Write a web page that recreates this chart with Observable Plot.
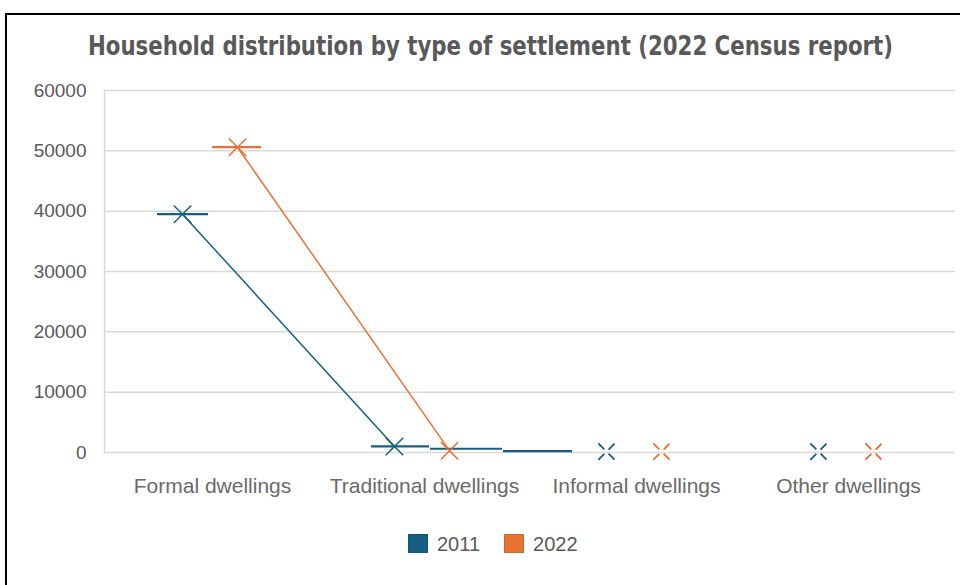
<!DOCTYPE html>
<html><head><meta charset="utf-8">
<script src="https://cdn.jsdelivr.net/npm/d3@7"></script>
<script src="https://cdn.jsdelivr.net/npm/@observablehq/plot@0.6"></script>
<style>
html,body{margin:0;padding:0;background:#fff;}
body{width:960px;height:585px;overflow:hidden;position:relative;font-family:"Liberation Sans",Arial,sans-serif;}
#frame{position:absolute;left:5px;top:13px;width:980px;height:600px;border:2px solid #000;box-shadow:1px 1px 2px #999;}
#title{position:absolute;left:88px;top:33px;font-family:"Liberation Sans Narrow","DejaVu Sans Condensed",Roboto,sans-serif;font-weight:bold;font-size:26px;line-height:1;color:#595959;white-space:nowrap;transform-origin:0 0;}
#chart{position:absolute;left:0;top:0;}
#legend{position:absolute;left:408px;top:534px;display:flex;align-items:center;height:19px;font-size:20px;line-height:1;color:#595959;}
.sw{width:20px;height:19px;margin-right:9px;box-sizing:border-box;}
.lab{margin-right:24px;}
</style></head>
<body>
<div id="frame"></div>
<div id="chart"></div>
<div id="title"></div>
<div id="legend"></div>
<script>
// ---- data ----
const titleText = "Household distribution by type of settlement (2022 Census report)";
const categories = ["Formal dwellings", "Traditional dwellings", "Informal dwellings", "Other dwellings"];
const seriesNames = ["2011", "2022"];
const values2011 = [39500, 1000, 150, 150];
const values2022 = [50600, 300, 150, 150];
const connected = ["Formal dwellings", "Traditional dwellings"];
const yTicks = [0, 10000, 20000, 30000, 40000, 50000, 60000];
// horizontal dash segments seen in the chart (series, category, value)
const dashSeries = ["2011", "2022", "2011", "2011", "2011"];
const dashCategory = ["Formal dwellings", "Formal dwellings", "Traditional dwellings", "Traditional dwellings", "Traditional dwellings"];
const dashValues = [39500, 50600, 1000, 620, 220];

// ---- styles ----
const colors = {"2011": "#156082", "2022": "#E97132"};
const offsets = {"2011": -30, "2022": 25};
const dashInsets = [[51, 110], [106, 57], [53, 101], [112, 28], [185, -42]];

const rows = [];
categories.forEach((c, i) => {
  rows.push({series: "2011", category: c, value: values2011[i]});
  rows.push({series: "2022", category: c, value: values2022[i]});
});
const dashes = dashValues.map((v, i) => ({series: dashSeries[i], category: dashCategory[i], value: v}));

const marks = [
  Plot.gridY(yTicks, {stroke: "#d9d9d9", strokeOpacity: 1, strokeWidth: 1.5}),
  Plot.frame({anchor: "left", stroke: "#d9d9d9", strokeWidth: 1.5}),
  Plot.axisY({ticks: yTicks, tickSize: 0, tickPadding: 18, tickFormat: d => String(d), label: null, fontSize: 19}),
  Plot.axisX({tickSize: 0, tickPadding: 26, label: null, fontSize: 21, fill: "#6a6a6a"})
];
dashes.forEach((d, i) => {
  marks.push(Plot.tickY([d], {x: "category", y: "value", stroke: colors[d.series], strokeWidth: 2.2,
    insetLeft: dashInsets[i][0], insetRight: dashInsets[i][1]}));
});
seriesNames.forEach(s => {
  const sr = rows.filter(r => r.series === s);
  marks.push(Plot.line(sr.filter(r => connected.includes(r.category)), {x: "category", y: "value", stroke: colors[s], strokeWidth: 1.5, dx: offsets[s]}));
  marks.push(Plot.dot(sr.filter(r => connected.includes(r.category)), {x: "category", y: "value", symbol: "times", r: 8, stroke: colors[s], strokeWidth: 1.5, dx: offsets[s]}));
  marks.push(Plot.dot(sr.filter(r => !connected.includes(r.category)), {x: "category", y: "value", symbol: "times", r: 7.5, stroke: colors[s], strokeWidth: 1.8, strokeDasharray: "8.5 6 8.5", dx: offsets[s]}));
});

const chart = Plot.plot({
  width: 960, height: 585,
  marginLeft: 104, marginRight: 5, marginTop: 90, marginBottom: 133,
  style: {fontFamily: "'Liberation Sans', Arial, sans-serif", color: "#595959", background: "transparent", overflow: "visible"},
  x: {type: "band", domain: categories, padding: 0},
  y: {domain: [0, 60000]},
  marks
});
document.getElementById("chart").appendChild(chart);

const t = document.getElementById("title");
t.textContent = titleText;
const w = t.getBoundingClientRect().width;
t.style.transform = `scaleX(${805 / w})`;

const lg = document.getElementById("legend");
seriesNames.forEach(s => {
  const sw = document.createElement("div");
  sw.className = "sw";
  sw.style.background = colors[s];
  sw.style.border = "1px solid " + d3.color(colors[s]).darker(0.3);
  const lab = document.createElement("span");
  lab.className = "lab";
  lab.textContent = s;
  lg.appendChild(sw); lg.appendChild(lab);
});
</script>
</body></html>
